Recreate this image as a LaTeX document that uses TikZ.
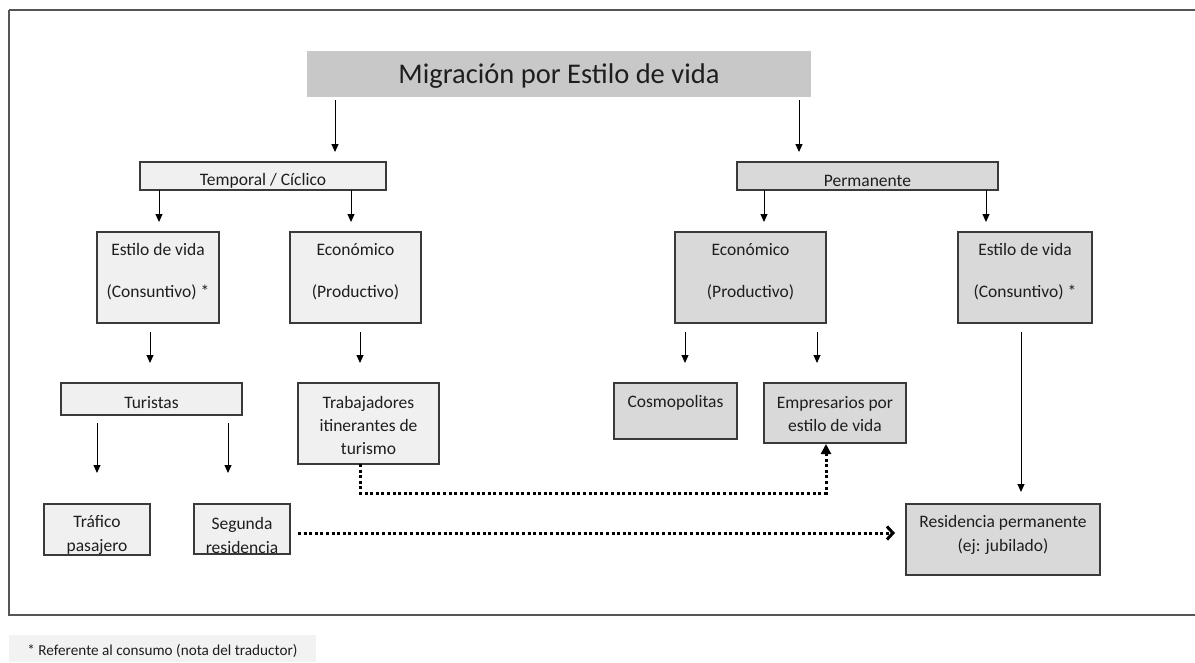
\documentclass[tikz,border=0pt]{standalone}
\usepackage{fontspec}
\setmainfont{Carlito}
\usetikzlibrary{arrows.meta}
\definecolor{titlegray}{HTML}{C8C8C8}
\definecolor{midgray}{HTML}{D9D9D9}
\definecolor{lightgray}{HTML}{F0F0F0}
\definecolor{notegray}{HTML}{F2F2F2}
\definecolor{edge}{HTML}{3A3A3A}
\definecolor{framec}{HTML}{555555}
\definecolor{ink}{HTML}{1E1E1E}
\begin{document}
\begin{tikzpicture}[x=1pt,y=-1pt,
  boxbase/.style={draw=edge, line width=1.3pt, inner sep=0pt, outer sep=0pt},
  lightbox/.style={boxbase, fill=lightgray},
  graybox/.style={boxbase, fill=midgray},
  txt/.style={font=\fontsize{17.5}{23}\selectfont, text=ink, inner sep=0pt, align=center},
  txtb/.style={font=\fontsize{17.5}{24}\selectfont, text=ink, inner sep=0pt, align=center},
  arr/.style={draw=black, line width=1pt, -{Triangle[length=8pt,width=7pt]}},
  dotarr/.style={draw=black, line width=3pt, dash pattern=on 3pt off 2.6pt},
]
\useasboundingbox (0,0) rectangle (1195,662);
% outer frame
\draw[framec, line width=1.5pt] (9,10) -- (1205,10) (9,10) -- (9,615) -- (1205,615);
% footnote box
\node[fill=notegray, inner sep=0pt, minimum width=307pt, minimum height=27pt] (note) at (162.5,648.5) {};
\node[font=\fontsize{15.2}{17}\selectfont, text=ink, inner sep=0pt] (notet) at (162.5,651) {* Referente al consumo (nota del traductor)};

% title
\node[fill=titlegray, inner sep=0pt, minimum width=504pt, minimum height=46pt] (title) at (559,74) {};
\node[font=\fontsize{28.5}{32}\selectfont, text=ink, inner sep=0pt] (titlet) at (559,76) {Migración por Estilo de vida};

% level 1
\node[lightbox, minimum width=246pt, minimum height=28pt] (tc) at (263,176) {};
\node[txt] (tct) at (263,181) {Temporal / Cíclico};
\node[graybox, minimum width=261pt, minimum height=28pt] (pm) at (867.5,176) {};
\node[txt] (pmt) at (867.5,181) {Permanente};

% level 2
\node[lightbox, minimum width=122pt, minimum height=91pt] (eL) at (158,277.5) {};
\node[txt] (eLt) at (158,272) {Estilo de vida\\[19pt](Consuntivo) *};
\node[lightbox, minimum width=131pt, minimum height=91pt] (cL) at (355.5,277.5) {};
\node[txt] (cLt) at (355.5,272) {Económico\\[19pt](Productivo)};
\node[graybox, minimum width=151pt, minimum height=91pt] (cR) at (750.5,277.5) {};
\node[txt] (cRt) at (750.5,272) {Económico\\[19pt](Productivo)};
\node[graybox, minimum width=134pt, minimum height=91pt] (eR) at (1025,277.5) {};
\node[txt] (eRt) at (1025,272) {Estilo de vida\\[19pt](Consuntivo) *};

% level 3
\node[lightbox, minimum width=181pt, minimum height=32pt] (tu) at (151.5,399) {};
\node[txt] (tut) at (151.5,403) {Turistas};
\node[lightbox, minimum width=141pt, minimum height=81pt] (tr) at (368.5,423.5) {};
\node[txt] (trt) at (368.5,425.5) {Trabajadores\\itinerantes de\\turismo};
\node[graybox, minimum width=123pt, minimum height=56pt] (co) at (675.5,411) {};
\node[txt] (cot) at (675.5,403) {Cosmopolitas};
\node[graybox, minimum width=142pt, minimum height=60pt] (em) at (835,413) {};
\node[txt] (emt) at (835,414) {Empresarios por\\estilo de vida};

% level 4
\node[lightbox, minimum width=106pt, minimum height=51pt] (tp) at (97,529.5) {};
\node[txtb] (tpt) at (97,535) {Tráfico\\pasajero};
\node[lightbox, minimum width=96pt, minimum height=50pt] (sr) at (242,529) {};
\node[txtb] (srt) at (242,535) {Segunda\\residencia};
\node[graybox, minimum width=194pt, minimum height=71pt] (rp) at (1003,539.5) {};
\node[txtb] (rpt) at (1003,535) {Residencia permanente\\(ej: jubilado)};

% arrows
\draw[arr, shorten <=3pt, shorten >=10pt] (title.south -| 335,0) -- (tc.north -| 335,0);
\draw[arr, shorten <=3pt, shorten >=10pt] (title.south -| 799,0) -- (pm.north -| 799,0);
\draw[arr, shorten >=10pt] (tc.south -| 159,0) -- (eL.north -| 159,0);
\draw[arr, shorten >=10pt] (tc.south -| 351,0) -- (cL.north -| 351,0);
\draw[arr, shorten >=10pt] (pm.south -| 764,0) -- (cR.north -| 764,0);
\draw[arr, shorten >=10pt] (pm.south -| 986,0) -- (eR.north -| 986,0);
\draw[arr, shorten <=9pt, shorten >=20pt] (eL.south -| 150,0) -- (tu.north -| 150,0);
\draw[arr, shorten <=9pt, shorten >=20pt] (cL.south -| 360,0) -- (tr.north -| 360,0);
\draw[arr, shorten <=9pt, shorten >=20pt] (cR.south -| 685,0) -- (co.north -| 685,0);
\draw[arr, shorten <=9pt, shorten >=20pt] (cR.south -| 817,0) -- (em.north -| 817,0);
\draw[arr, shorten <=9pt, shorten >=12pt] (eR.south -| 1021,0) -- (rp.north -| 1021,0);
\draw[arr, shorten <=8pt, shorten >=31pt] (tu.south -| 97,0) -- (tp.north -| 97,0);
\draw[arr, shorten <=8pt, shorten >=31pt] (tu.south -| 228,0) -- (sr.north -| 228,0);

% dotted connectors
\coordinate (b1) at (360,493);
\coordinate (b2) at (826,493);
\draw[dotarr, -{Triangle[length=10pt,width=10pt]}, shorten >=1pt] (tr.south -| b1) -- (b1) -- (b2) -- (em.south -| b2);
\draw[dotarr, -{Straight Barb[length=6pt,width=13pt,line width=3pt]}, shorten <=8pt, shorten >=11pt] (sr.east |- 0,533) -- (rp.west |- 0,533);
\end{tikzpicture}
\end{document}
